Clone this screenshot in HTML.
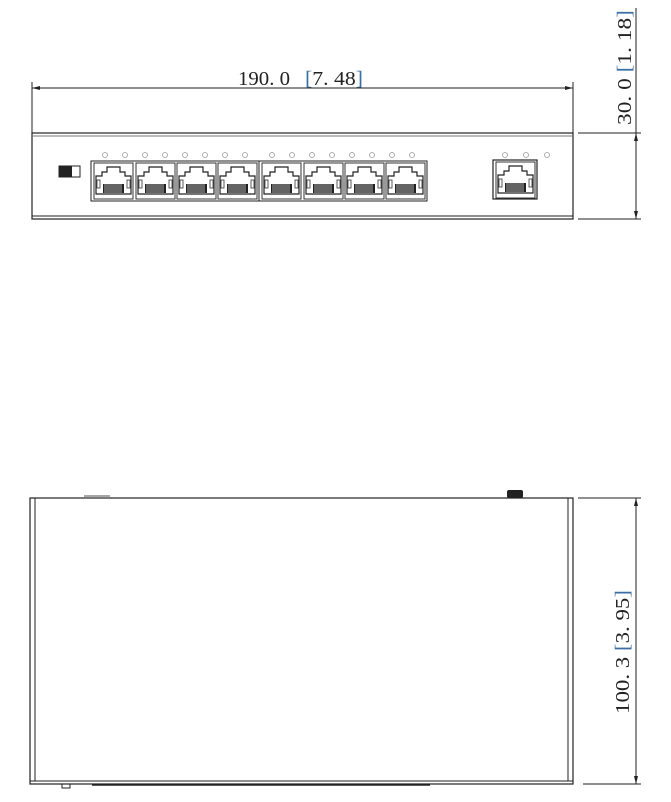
<!DOCTYPE html>
<html><head><meta charset="utf-8"><style>
html,body{margin:0;padding:0;background:#fff;width:671px;height:802px;overflow:hidden}
svg{display:block}
text{font-family:"Liberation Serif",serif;font-size:20px;fill:#222}
</style></head><body>
<svg width="671" height="802" viewBox="0 0 671 802" xmlns="http://www.w3.org/2000/svg">
<defs>
<g id="port">
<rect x="0" y="0" width="39" height="36" fill="#fff" stroke="#333" stroke-width="1"/>
<path d="M2,31 V13 H8 V9 H13 V4 H26 V9 H31 V13 H37 V31 Z" fill="none" stroke="#222" stroke-width="1.2"/>
<rect x="3" y="17" width="3" height="8" fill="none" stroke="#333" stroke-width="0.8"/>
<rect x="33" y="17" width="3" height="8" fill="none" stroke="#333" stroke-width="0.8"/>
<rect x="9" y="21" width="21" height="9" fill="#222"/>
<path d="M11,21v9M13,21v9M15,21v9M17,21v9M19,21v9M21,21v9M23,21v9M25,21v9M27,21v9" stroke="#fff" stroke-width="0.6"/>
</g>
<g id="led"><circle r="2.5" fill="none" stroke="#999" stroke-width="0.8"/></g>
</defs>
<g stroke="#222" fill="none" stroke-width="1">
<line x1="32" y1="82" x2="32" y2="133"/>
<line x1="573" y1="82" x2="573" y2="133"/>
<line x1="32" y1="88" x2="573" y2="88"/>
<line x1="578" y1="133" x2="641" y2="133"/>
<line x1="578" y1="219" x2="641" y2="219"/>
<line x1="636" y1="8" x2="636" y2="219"/>
<rect x="32" y="133" width="541" height="86" stroke-width="1.2"/>
<line x1="32" y1="136" x2="573" y2="136" stroke="#777"/>
<line x1="32" y1="216" x2="573" y2="216"/>
<rect x="91" y="161" width="336" height="40"/>
<line x1="259" y1="161" x2="259" y2="201"/>
<rect x="30" y="498" width="543" height="286" stroke-width="1.2"/>
<line x1="35" y1="498" x2="35" y2="781"/>
<line x1="568" y1="498" x2="568" y2="781"/>
<line x1="30" y1="781" x2="573" y2="781"/>
<line x1="84" y1="496" x2="110" y2="496" stroke="#888" stroke-width="1.5"/>
<rect x="62" y="784" width="8" height="4"/>
<line x1="578" y1="498" x2="641" y2="498"/>
<line x1="583" y1="784" x2="641" y2="784"/>
<line x1="636" y1="498" x2="636" y2="784"/>
<line x1="92" y1="785" x2="430" y2="785" stroke-width="1.5"/>
</g>
<g fill="#222">
<path d="M32,88 l8,-2 v4z"/><path d="M573,88 l-8,-2 v4z"/>
<path d="M636,133 l-2,8 h4z"/><path d="M636,219 l-2,-8 h4z"/>
<path d="M636,498 l-2,8 h4z"/><path d="M636,784 l-2,-8 h4z"/>
<rect x="507" y="490" width="16" height="8" rx="2"/>
</g>
<rect x="59" y="166" width="21" height="11" fill="#fff" stroke="#222"/>
<rect x="59" y="166" width="13" height="11" fill="#222"/>
<use href="#port" x="94" y="163"/><use href="#port" x="136" y="163"/>
<use href="#port" x="177" y="163"/><use href="#port" x="218" y="163"/>
<use href="#port" x="262" y="163"/><use href="#port" x="304" y="163"/>
<use href="#port" x="345" y="163"/><use href="#port" x="386" y="163"/>
<use href="#led" x="105" y="155"/><use href="#led" x="125" y="155"/><use href="#led" x="145" y="155"/><use href="#led" x="165" y="155"/>
<use href="#led" x="185" y="155"/><use href="#led" x="205" y="155"/><use href="#led" x="225" y="155"/><use href="#led" x="245" y="155"/>
<use href="#led" x="272" y="155"/><use href="#led" x="292" y="155"/><use href="#led" x="312" y="155"/><use href="#led" x="332" y="155"/>
<use href="#led" x="352" y="155"/><use href="#led" x="372" y="155"/><use href="#led" x="392" y="155"/><use href="#led" x="412" y="155"/>
<use href="#led" x="505" y="155"/><use href="#led" x="526" y="155"/><use href="#led" x="547" y="155"/>
<rect x="493" y="160" width="44" height="39" fill="#fff" stroke="#222" stroke-width="1.2"/>
<use href="#port" x="496" y="162"/>
<text x="238" y="85" textLength="52" lengthAdjust="spacingAndGlyphs">190. 0</text>
<text x="305" y="85" textLength="58" lengthAdjust="spacingAndGlyphs"><tspan fill="#3a6ea5">[</tspan>7. 48<tspan fill="#3a6ea5">]</tspan></text>
<text transform="translate(631,125) rotate(-90)" textLength="115" lengthAdjust="spacingAndGlyphs">30. 0  <tspan fill="#3a6ea5">[</tspan>1. 18<tspan fill="#3a6ea5">]</tspan></text>
<text transform="translate(629,714) rotate(-90)" textLength="124" lengthAdjust="spacingAndGlyphs">100. 3  <tspan fill="#3a6ea5">[</tspan>3. 95<tspan fill="#3a6ea5">]</tspan></text>
</svg>
</body></html>
